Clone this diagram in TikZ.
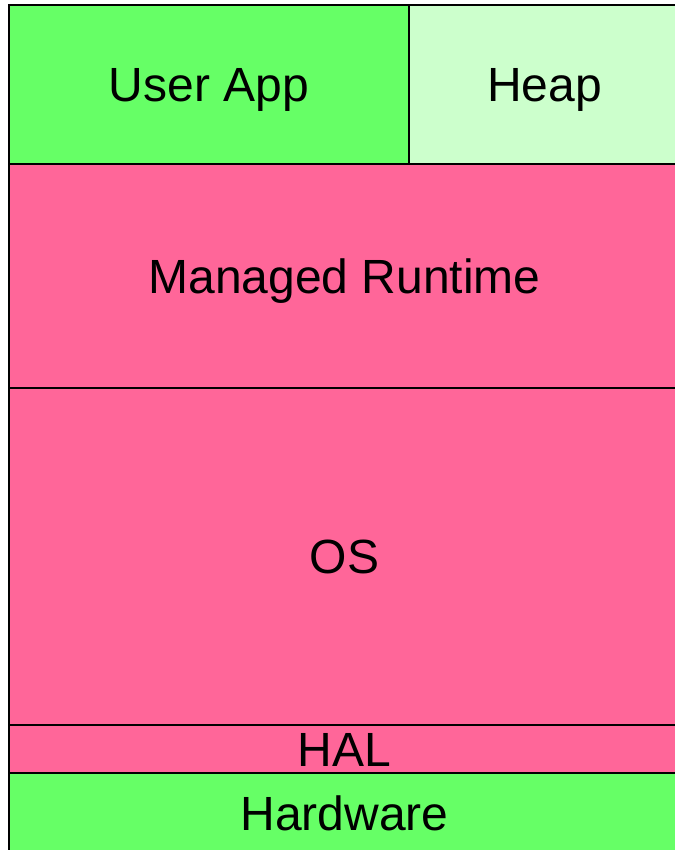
\documentclass[tikz,border=0pt]{standalone}
\usepackage{fontspec}
\setmainfont{Liberation Sans}
\definecolor{stackgreen}{HTML}{66FF66}
\definecolor{stacklight}{HTML}{CCFFCC}
\definecolor{stackpink}{HTML}{FF6699}
\usetikzlibrary{positioning}

\begin{document}
\begin{tikzpicture}[
  x=1pt, y=-1pt,
  every node/.style={font=\fontsize{48}{56}\selectfont},
  layer/.style={draw=black,line width=2pt,inner sep=0pt,outer sep=0pt,
                text height=34.4pt,text depth=0pt,minimum width=671pt},
]
  \useasboundingbox (0,0) rectangle (674,850);

  % Top row: application and its heap
  \node[layer,fill=stackgreen,minimum width=400pt,minimum height=159pt]
    (app) at (209, 84.5) {User App};
  \node[layer,fill=stacklight,minimum width=271pt,minimum height=159pt]
    (heap) at (544.5, 84.5) {Heap};

  % Runtime and system layers
  \node[layer,fill=stackpink,minimum height=224pt]
    (runtime) at (344.5, 276) {Managed Runtime};
  \node[layer,fill=stackpink,minimum height=337pt]
    (os) at (344.5, 556.5) {OS};
  \node[layer,fill=stackpink,minimum height=48pt]
    (hal) at (344.5, 749) {HAL};
  \node[layer,fill=stackgreen,minimum height=80pt]
    (hw) at (344.5, 813) {Hardware};
\end{tikzpicture}
\end{document}
